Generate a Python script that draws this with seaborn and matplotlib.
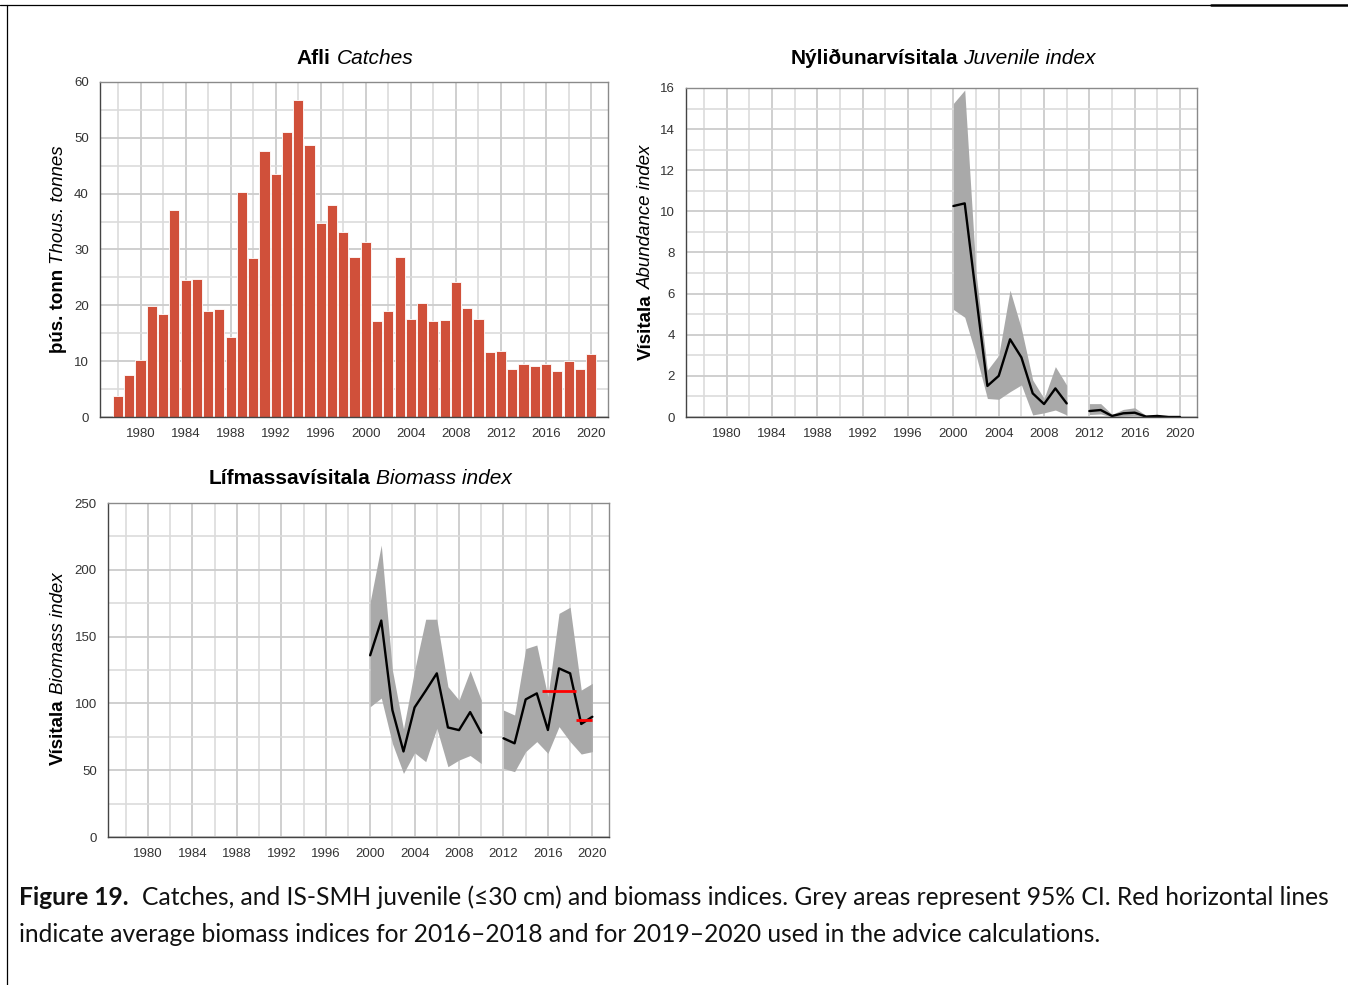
import numpy as np
import pandas as pd
import matplotlib
matplotlib.use("Agg")
import matplotlib.pyplot as plt
import seaborn as sns
from matplotlib.ticker import FixedLocator, MultipleLocator
from matplotlib.transforms import IdentityTransform
from matplotlib.lines import Line2D

W, H = 1348, 985

# ---- data -----------------------------------------------------------------
catch_years = list(range(1978, 2021))
catch_kt = [3.8, 7.6, 10.2, 19.8, 18.5, 37.0, 24.5, 24.8, 18.9, 19.3,
            14.3, 40.3, 28.4, 47.7, 43.5, 51.1, 56.8, 48.7, 34.7, 37.9,
            33.1, 28.6, 31.4, 17.2, 19.0, 28.6, 17.5, 20.5, 17.2, 17.3,
            24.2, 19.5, 17.5, 11.7, 11.9, 8.6, 9.5, 9.2, 9.5, 8.3,
            10.0, 8.6, 11.3]

survey_years = list(range(2000, 2011)) + list(range(2012, 2021))
survey_block = [0] * 11 + [1] * 9   # no survey in 2011

juv_index = [10.26, 10.39, 5.9, 1.51, 2.0, 3.78, 2.9, 1.15, 0.63, 1.39, 0.66,
             0.29, 0.34, 0.05, 0.18, 0.21, 0.02, 0.05, 0.0, 0.0]
juv_upper = [15.25, 15.9, 7.0, 2.28, 3.0, 6.17, 4.3, 1.8, 0.9, 2.45, 1.55,
             0.65, 0.65, 0.13, 0.37, 0.45, 0.08, 0.1, 0.02, 0.01]
juv_lower = [5.23, 4.85, 3.0, 0.9, 0.86, 1.23, 1.56, 0.1, 0.2, 0.34, 0.1,
             0.12, 0.15, 0.0, 0.05, 0.08, 0.0, 0.0, 0.0, 0.0]

bio_index = [136.0, 162.0, 95.0, 64.0, 97.0, 109.5, 122.5, 82.0, 80.0, 93.5, 78.0,
             73.9, 70.1, 103.0, 107.5, 80.1, 126.2, 122.5, 84.6, 90.0]
bio_upper = [176.0, 218.5, 125.0, 81.0, 125.0, 163.0, 163.0, 112.5, 102.5, 124.5, 102.5,
             95.0, 91.3, 141.0, 143.7, 105.0, 167.4, 172.0, 110.0, 115.0]
bio_lower = [97.5, 104.0, 70.0, 47.6, 63.0, 56.4, 81.3, 52.6, 57.6, 61.0, 55.0,
             51.4, 48.9, 63.9, 71.4, 62.6, 82.6, 71.4, 62.1, 63.9]

advice_periods = [(2016, 2018), (2019, 2020)]

# ---- figure -----------------------------------------------------------------
sns.set_style("white")
plt.rcParams["font.family"] = ["Liberation Sans", "DejaVu Sans"]

fig = plt.figure(figsize=(W / 100, H / 100), dpi=100)
fig.patch.set_facecolor("white")


def axes_px(left, top, right, bottom):
    return fig.add_axes([left / W, 1 - bottom / H, (right - left) / W, (bottom - top) / H])


def style_axes(ax, ymax, ymajor, yminor):
    ax.set_xlim(1976.4, 2021.5)
    ax.set_ylim(0, ymax)
    ax.xaxis.set_major_locator(FixedLocator(list(range(1980, 2021, 4))))
    ax.xaxis.set_minor_locator(FixedLocator(list(range(1978, 2021, 2))))
    ax.yaxis.set_major_locator(MultipleLocator(ymajor))
    ax.yaxis.set_minor_locator(MultipleLocator(yminor))
    ax.grid(which="major", color="#cccccc", lw=1.3)
    ax.grid(which="minor", color="#dcdcdc", lw=1.2)
    ax.set_axisbelow(True)
    ax.tick_params(which="minor", length=0)
    ax.tick_params(which="major", length=5, width=1.0, color="#333333",
                   labelsize=9.5, labelcolor="#333333", pad=3, direction="out")
    for s in ("top", "right"):
        ax.spines[s].set_color("#8a8a8a")
        ax.spines[s].set_linewidth(1.0)
    for s in ("left", "bottom"):
        ax.spines[s].set_color("#444444")
        ax.spines[s].set_linewidth(1.0)
    ax.set_xlabel("")
    ax.set_ylabel("")


renderer = fig.canvas.get_renderer()
ident = IdentityTransform()


def rich_text(parts, x, y, size, family, rotation=0, align="center", gap=1.0, color="black"):
    """Draw styled pieces one after another on a common baseline.
    x, y are pixels from the left/top edge of the figure."""
    arts, lens = [], []
    for s, weight, style in parts:
        t = fig.text(0, 0, s, fontsize=size, fontweight=weight, fontstyle=style,
                     family=family, rotation=rotation, rotation_mode="anchor",
                     ha="left", va="baseline", transform=ident, color=color)
        bb = t.get_window_extent(renderer)
        lens.append(bb.height if rotation == 90 else bb.width)
        arts.append(t)
    space = size * 100 / 72 * 0.27 * gap
    total = sum(lens) + space * (len(parts) - 1)
    pos = -total / 2 if align == "center" else 0.0
    for t, L in zip(arts, lens):
        if rotation == 90:
            t.set_position((x, H - y + pos))
        else:
            t.set_position((x + pos, H - y))
        pos += L + space
    return total


# ---- catches -----------------------------------------------------------------
ax1 = axes_px(100, 82, 608, 417)
sns.barplot(x=catch_years, y=catch_kt, native_scale=True, color="#D0503A",
            saturation=1, width=0.9, edgecolor="white", linewidth=0.6,
            errorbar=None, ax=ax1)
style_axes(ax1, 60, 10, 5)

# ---- juvenile index ------------------------------------------------------------
juv = pd.DataFrame(dict(year=survey_years, value=juv_index, lo=juv_lower,
                        hi=juv_upper, block=survey_block))
bio = pd.DataFrame(dict(year=survey_years, value=bio_index, lo=bio_lower,
                        hi=bio_upper, block=survey_block))

ax2 = axes_px(686, 88, 1197, 417)
for _, part in juv.groupby("block"):
    ax2.fill_between(part["year"], part["lo"], part["hi"], color="#a9a9a9", lw=0)
sns.lineplot(data=juv, x="year", y="value", units="block", estimator=None,
             color="black", lw=1.7, ax=ax2)
style_axes(ax2, 16, 2, 1)

# ---- biomass index --------------------------------------------------------------
ax3 = axes_px(108, 503, 609, 837)
for _, part in bio.groupby("block"):
    ax3.fill_between(part["year"], part["lo"], part["hi"], color="#a9a9a9", lw=0)
sns.lineplot(data=bio, x="year", y="value", units="block", estimator=None,
             color="black", lw=1.7, ax=ax3)
for (y0, y1), (x0, x1) in zip(advice_periods, [(2015.5, 2018.5), (2018.5, 2020.0)]):
    m = bio.loc[(bio["year"] >= y0) & (bio["year"] <= y1), "value"].mean()
    ax3.hlines(m, x0, x1, color="#ff0000", lw=2.0, zorder=5)
style_axes(ax3, 250, 50, 25)

# ---- titles and axis labels -------------------------------------------------------
helv = ["Liberation Sans", "DejaVu Sans"]
rich_text([("Afli", "bold", "normal"), ("Catches", "normal", "italic")],
          355, 64, 15, helv)
rich_text([("Nýliðunarvísitala", "bold", "normal"), ("Juvenile index", "normal", "italic")],
          943, 64, 15, helv)
rich_text([("Lífmassavísitala", "bold", "normal"), ("Biomass index", "normal", "italic")],
          360, 484, 15, helv)

rich_text([("þús. tonn", "bold", "normal"), ("Thous. tonnes", "normal", "italic")],
          63, 249, 13.5, helv, rotation=90)
rich_text([("Vísitala", "bold", "normal"), ("Abundance index", "normal", "italic")],
          651, 252, 13.5, helv, rotation=90)
rich_text([("Vísitala", "bold", "normal"), ("Biomass index", "normal", "italic")],
          63, 669, 13.5, helv, rotation=90)

# ---- caption ----------------------------------------------------------------------
cap_font = ["Lato", "DejaVu Sans"]
line1 = [("Figure 19.", "bold", "normal"),
         ("Catches, and IS-SMH juvenile (≤30 cm) and biomass indices. Grey areas "
          "represent 95% CI. Red horizontal lines", "normal", "normal")]
line2 = [("indicate average biomass indices for 2016–2018 and for 2019–2020 used in the "
          "advice calculations.", "normal", "normal")]

probe = fig.text(0, 0, line1[1][0], fontsize=16, family=cap_font, transform=ident)
probe_b = fig.text(0, 0, line1[0][0], fontsize=16, fontweight="bold", family=cap_font,
                   transform=ident)
w16 = (probe.get_window_extent(renderer).width + probe_b.get_window_extent(renderer).width
       + 16 * 100 / 72 * 0.27 * 2)
probe.remove()
probe_b.remove()
cap_size = 16 * 1315 / w16

rich_text(line1, 19, 905, cap_size, cap_font, align="left", gap=2.0, color="#111111")
rich_text(line2, 19, 942, cap_size, cap_font, align="left", color="#111111")

# ---- page frame -------------------------------------------------------------------
fig.add_artist(Line2D([0, 1211 / W], [1 - 4.5 / H] * 2, transform=fig.transFigure,
                      color="black", lw=0.9))
fig.add_artist(Line2D([1211 / W, 1], [1 - 5 / H] * 2, transform=fig.transFigure,
                      color="black", lw=1.8))
fig.add_artist(Line2D([7 / W] * 2, [0, 1 - 4.5 / H], transform=fig.transFigure,
                      color="black", lw=0.9))

fig.savefig("out.png", dpi=100, facecolor="white")
